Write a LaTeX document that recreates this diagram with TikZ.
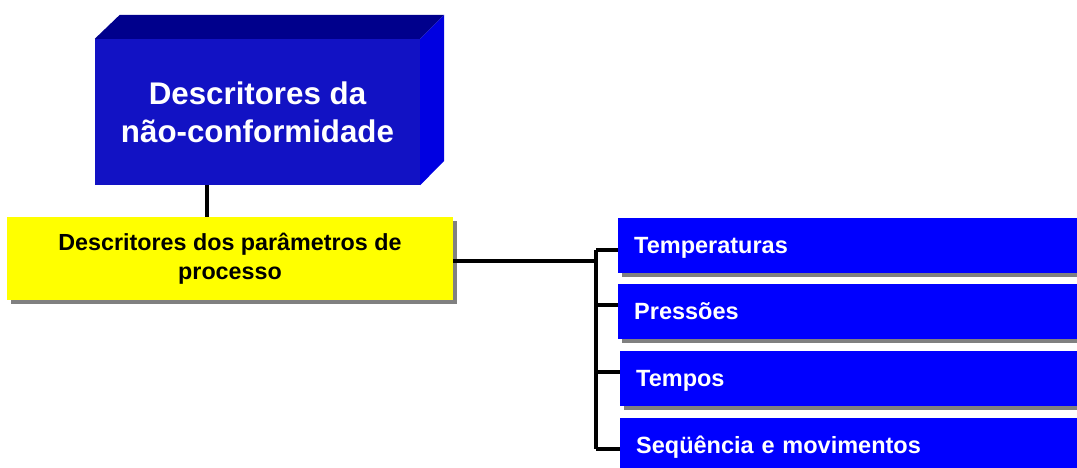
\documentclass[tikz,border=0pt]{standalone}
\usepackage{fontspec}
\setmainfont{Liberation Sans}
\usetikzlibrary{calc,shadows}
\definecolor{frontblue}{RGB}{18,18,196}
\definecolor{topblue}{RGB}{0,0,140}
\definecolor{sideblue}{RGB}{0,0,225}
\definecolor{itemblue}{RGB}{0,0,255}
\definecolor{shadowgray}{RGB}{128,128,128}
\definecolor{yellowfill}{RGB}{255,255,0}
\begin{document}
\begin{tikzpicture}[x=1pt,y=-1pt,
 shadowbox/.style={drop shadow={shadow xshift=4pt, shadow yshift=-4pt, fill=shadowgray, opacity=1}},
 topbox/.style={fill=frontblue, minimum width=325pt, minimum height=146pt, inner sep=0pt,
   text=white, align=center, font=\fontsize{31.3}{38}\selectfont\bfseries},
 procbox/.style={shadowbox, fill=yellowfill, minimum width=446pt, minimum height=83pt, inner sep=0pt,
   align=center, font=\fontsize{23.3}{29}\selectfont\bfseries},
 itembox/.style={shadowbox, fill=itemblue, anchor=west, text=white, inner xsep=16pt, inner ysep=0pt,
   minimum height=55pt, text width=427pt, align=left, text height=16.5pt, text depth=0pt,
   font=\fontsize{23.5}{28}\selectfont\bfseries},
 conn/.style={line width=3.2pt, black}
]
\useasboundingbox (0,0) rectangle (1077,468);

% 3D top box
\node[topbox] (top) at (257.5,112) {Descritores da\\não-conformidade};
\fill[topblue] (top.north west) -- ++(25,-24) -- ($(top.north east)+(24,-24)$) -- (top.north east) -- cycle;
\fill[sideblue] (top.north east) -- ++(24,-24) -- ++(0,146) -- (top.south east) -- cycle;

% process box
\node[procbox] (proc) at (230,258.5) {Descritores dos parâmetros de\\processo};

% items
\node[itembox] (t1) at (618,245.5) {Temperaturas};
\node[itembox] (t2) at (618,311.5) {Pressões};
\node[itembox] (t3) at (620,378.5) {Tempos};
\node[itembox] (t4) at (620,445.5) {Seqüência e movimentos};

% connectors
\coordinate (a) at ($(top.south west)!0.345!(top.south east)$);
\draw[conn] (a) -- (a |- proc.north);

\coordinate (b1) at ([yshift=-4.5pt]t1.west);
\coordinate (b2) at ([yshift=6.5pt]t2.west);
\coordinate (b3) at ([yshift=6.5pt]t3.west);
\coordinate (b4) at ([yshift=-3.5pt]t4.west);
\coordinate (j1) at ($(b1)+(-22,0)$);
\coordinate (p) at ([yshift=-2.5pt]proc.east);

\draw[conn] (p) -- (p -| j1);
\draw[conn] (j1) -- (j1 |- b4);
\draw[conn] (j1) -- (b1);
\draw[conn] (j1 |- b2) -- (b2);
\draw[conn] (j1 |- b3) -- (b3);
\draw[conn] (j1 |- b4) -- (b4);
\end{tikzpicture}
\end{document}
